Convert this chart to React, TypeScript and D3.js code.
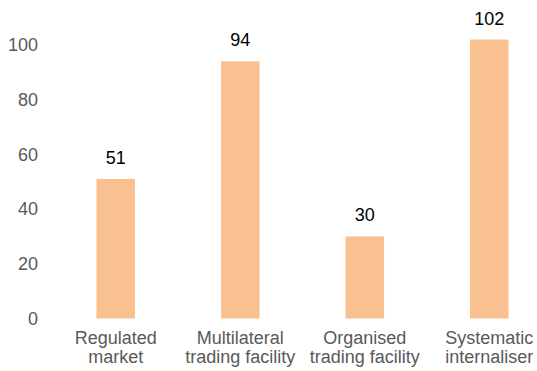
import React from 'react';
import * as d3 from 'd3';

const categories = [
  'Regulated\nmarket',
  'Multilateral\ntrading facility',
  'Organised\ntrading facility',
  'Systematic\ninternaliser',
];
const values = [51, 94, 30, 102];
const yTicks = [0, 20, 40, 60, 80, 100];

const W = 537;
const H = 371;
const font = 'Liberation Sans, Arial, sans-serif';

export default function App() {
  const x = d3.scaleBand<string>()
    .domain(categories)
    .range([53.5, 551.5])
    .paddingInner(0.69)
    .paddingOuter(0.345);

  const y = d3.scaleLinear().domain([0, 100]).range([318.5, 45]);

  return (
    <svg
      width={W}
      height={H}
      style={{ position: 'absolute', left: 0, top: 0, background: '#fff' }}
      fontFamily={font}
    >
      {/* y tick labels */}
      {yTicks.map(t => (
        <text key={t} x={38} y={y(t)} dy="0.35em" textAnchor="end" fontSize={18} fill="#595959">
          {t}
        </text>
      ))}

      {/* bars */}
      {categories.map((c, i) => (
        <rect
          key={c}
          x={x(c) || 0}
          y={y(values[i])}
          width={x.bandwidth()}
          height={y(0) - y(values[i])}
          fill="#F9C18F"
        />
      ))}

      {/* value labels */}
      {categories.map((c, i) => (
        <text
          key={c}
          x={(x(c) || 0) + x.bandwidth() / 2}
          y={y(values[i]) - 15}
          textAnchor="middle"
          fontSize={18}
          fill="#000"
        >
          {values[i]}
        </text>
      ))}

      {/* category labels */}
      {categories.map(c => (
        <text
          key={c}
          x={(x(c) || 0) + x.bandwidth() / 2}
          y={344}
          textAnchor="middle"
          fontSize={18}
          fill="#595959"
        >
          {c.split('\n').map((line, j) => (
            <tspan key={j} x={(x(c) || 0) + x.bandwidth() / 2} dy={j === 0 ? 0 : 19}>
              {line}
            </tspan>
          ))}
        </text>
      ))}
    </svg>
  );
}
